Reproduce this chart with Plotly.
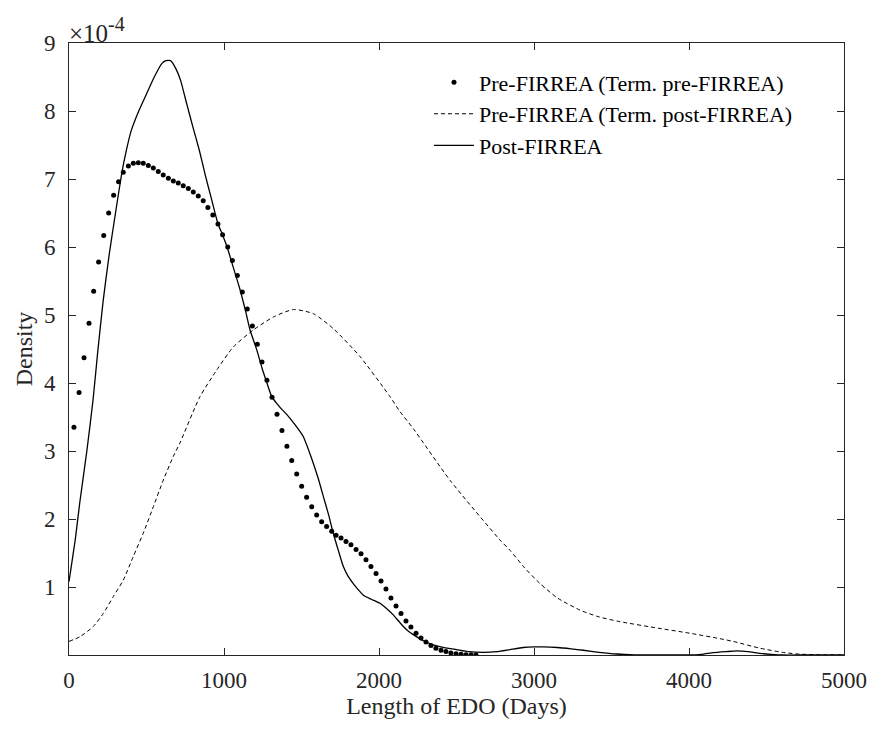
import plotly.graph_objects as go

# Pre-FIRREA (Term. pre-FIRREA) - dotted series
pre_pre_x = [32, 65, 97, 129, 159, 191, 224, 256, 288, 320, 350, 383, 415, 447, 479, 512, 544, 576,
             608, 641, 673, 705, 737, 770, 802, 834, 866, 896, 928, 961, 991, 1024, 1054, 1086, 1118,
             1150, 1183, 1215, 1245, 1277, 1310, 1342, 1374, 1406, 1437, 1469, 1501, 1533, 1566, 1598,
             1630, 1662, 1695, 1723, 1755, 1787, 1819, 1852, 1884, 1916, 1948, 1981, 2013, 2045, 2077,
             2110, 2142, 2174, 2206, 2239, 2271, 2303, 2335, 2367, 2400, 2432, 2464, 2497, 2529, 2561,
             2594, 2626]
pre_pre_y = [3.35, 3.86, 4.37, 4.88, 5.35, 5.78, 6.17, 6.50, 6.76, 6.96, 7.10, 7.19, 7.23, 7.24, 7.23,
             7.20, 7.16, 7.11, 7.06, 7.01, 6.97, 6.94, 6.90, 6.86, 6.81, 6.75, 6.68, 6.58, 6.47, 6.34,
             6.18, 6.00, 5.80, 5.58, 5.34, 5.09, 4.84, 4.57, 4.31, 4.04, 3.79, 3.54, 3.30, 3.07, 2.86,
             2.66, 2.48, 2.32, 2.18, 2.06, 1.96, 1.89, 1.82, 1.76, 1.72, 1.67, 1.62, 1.55, 1.49, 1.40,
             1.30, 1.20, 1.09, 0.97, 0.84, 0.72, 0.61, 0.50, 0.41, 0.32, 0.25, 0.19, 0.14, 0.10, 0.07,
             0.05, 0.03, 0.02, 0.01, 0.005, 0.002, 0.0]

# Pre-FIRREA (Term. post-FIRREA) - dashed series
pre_post_x = [0, 71, 157, 221, 286, 350, 415, 479, 544, 608, 673, 716, 845, 953, 1060, 1189, 1318,
              1447, 1576, 1705, 1877, 2071, 2135, 2221, 2458, 2781, 2845, 2940, 3039, 3150, 3297,
              3420, 3555, 3813, 4006, 4200, 4284, 4458, 4600, 4697, 4850, 5000]
pre_post_y = [0.20, 0.27, 0.42, 0.61, 0.86, 1.10, 1.45, 1.79, 2.18, 2.57, 2.92, 3.12, 3.80, 4.19,
              4.53, 4.78, 4.97, 5.08, 5.02, 4.80, 4.39, 3.80, 3.58, 3.33, 2.57, 1.69, 1.54, 1.28,
              1.05, 0.84, 0.66, 0.56, 0.49, 0.39, 0.32, 0.24, 0.20, 0.10, 0.04, 0.015, 0.003, 0.0]

# Post-FIRREA - solid series
post_x = [0, 40, 70, 115, 155, 185, 220, 260, 300, 340, 370, 400, 450, 500, 550, 600, 625, 655,
          690, 720, 760, 800, 840, 880, 920, 960, 990, 1020, 1060, 1100, 1140, 1168, 1211, 1245,
          1277, 1308, 1340, 1370, 1400, 1426, 1470, 1512, 1545, 1576, 1610, 1641, 1675, 1705,
          1740, 1770, 1800, 1834, 1870, 1899, 1950, 2006, 2050, 2092, 2130, 2157, 2190, 2221,
          2286, 2350, 2420, 2500, 2580, 2673, 2760, 2845, 2930, 3000, 3060, 3150, 3240, 3318,
          3420, 3533, 3650, 3750, 3880, 3985, 4080, 4157, 4240, 4308, 4380, 4458, 4530, 4606,
          4750, 5000]
post_y = [1.08, 1.69, 2.25, 3.00, 3.75, 4.45, 5.20, 5.90, 6.50, 7.08, 7.42, 7.70, 8.00, 8.25, 8.50,
          8.70, 8.74, 8.74, 8.62, 8.45, 8.10, 7.76, 7.43, 7.05, 6.70, 6.35, 6.18, 6.00, 5.70, 5.40,
          5.05, 4.78, 4.49, 4.22, 4.00, 3.80, 3.70, 3.62, 3.55, 3.48, 3.35, 3.21, 3.02, 2.82, 2.58,
          2.33, 2.06, 1.79, 1.52, 1.30, 1.16, 1.05, 0.95, 0.88, 0.82, 0.76, 0.68, 0.59, 0.49, 0.42,
          0.35, 0.30, 0.21, 0.15, 0.11, 0.08, 0.05, 0.04, 0.05, 0.08, 0.11, 0.12, 0.12, 0.11, 0.09,
          0.07, 0.04, 0.015, 0.003, 0.0, 0.0, 0.0, 0.01, 0.035, 0.05, 0.06, 0.05, 0.025, 0.01, 0.0,
          0.0, 0.0]

x_ticks = [0, 1000, 2000, 3000, 4000, 5000]
y_tick_vals = [1, 2, 3, 4, 5, 6, 7, 8, 9]
y_scale = 1e-4

names = ["Pre-FIRREA (Term. pre-FIRREA)", "Pre-FIRREA (Term. post-FIRREA)", "Post-FIRREA"]

FONT = "Liberation Serif, Times New Roman, serif"
AX = "#262626"

fig = go.Figure()
fig.add_trace(go.Scatter(
    x=pre_pre_x, y=[v * y_scale for v in pre_pre_y], mode="markers", name=names[0],
    marker=dict(color="black", size=5, symbol="circle", line=dict(width=0))))
fig.add_trace(go.Scatter(
    x=pre_post_x, y=[v * y_scale for v in pre_post_y], mode="lines", name=names[1],
    line=dict(color="black", width=1, dash="4px,3px", shape="spline", smoothing=0.6)))
fig.add_trace(go.Scatter(
    x=post_x, y=[v * y_scale for v in post_y], mode="lines", name=names[2],
    line=dict(color="black", width=1.3, shape="spline", smoothing=0.5)))

# the page body adds an 8px offset, so the figure is sized to the remaining window
fig.update_layout(
    width=867, height=722,
    margin=dict(l=61, r=31, t=35, b=75, autoexpand=False),
    paper_bgcolor="white", plot_bgcolor="white",
    font=dict(family=FONT, color=AX, size=22),
    showlegend=True,
    legend=dict(x=0.4645, y=0.97, xanchor="left", yanchor="top",
                bgcolor="rgba(0,0,0,0)", borderwidth=0,
                font=dict(family=FONT, size=22, color="black"),
                tracegroupgap=0, itemwidth=40),
    xaxis=dict(range=[0, 5000], tickvals=x_ticks, ticktext=[str(t) for t in x_ticks],
               ticks="inside", ticklen=7, tickcolor=AX, showline=True, linecolor=AX,
               linewidth=1, mirror="allticks", showgrid=False, zeroline=False, automargin=False,
               ticklabelstandoff=4,
               tickfont=dict(family=FONT, size=23, color=AX),
               title=dict(text="Length of EDO (Days)", font=dict(family=FONT, size=24, color=AX),
                          standoff=0)),
    yaxis=dict(range=[0, 9e-4], tickvals=[v * y_scale for v in y_tick_vals],
               ticktext=[str(v) for v in y_tick_vals],
               ticks="inside", ticklen=7, tickcolor=AX, showline=True, linecolor=AX,
               linewidth=1, mirror="allticks", showgrid=False, zeroline=False, automargin=False,
               ticklabelstandoff=8,
               tickfont=dict(family=FONT, size=23, color=AX),
               title=dict(text="Density", font=dict(family=FONT, size=24, color=AX), standoff=4)),
)

fig.add_annotation(text="×10<sup><span style='font-size:20px'>-4</span></sup>",
                   xref="paper", yref="paper", x=0.0, y=1.0,
                   xanchor="left", yanchor="bottom", showarrow=False,
                   font=dict(family=FONT, size=25, color=AX), xshift=-2, yshift=-6)

fig.write_html("out.html")
